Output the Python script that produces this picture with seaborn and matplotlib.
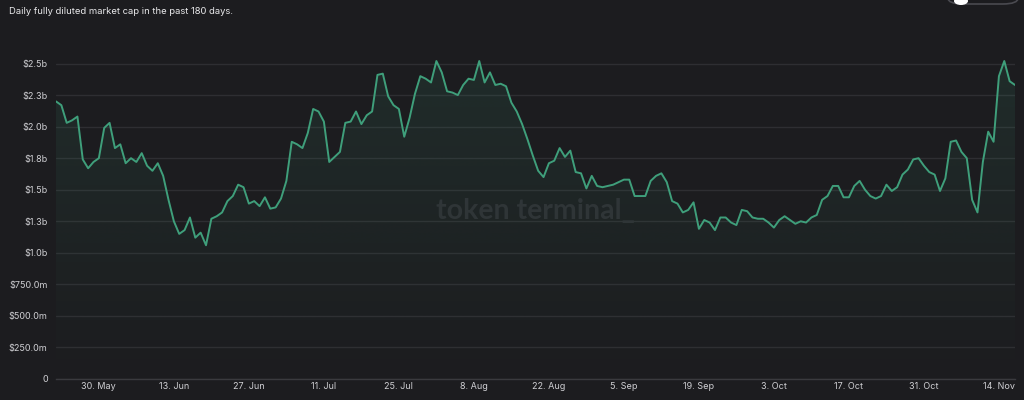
import numpy as np
import pandas as pd
import seaborn as sns
import matplotlib.pyplot as plt
import matplotlib.dates as mdates
from matplotlib.patches import FancyBboxPatch, Ellipse

# daily fully diluted market cap, in billions of USD
start_date = "2022-05-22"
fdv_b = [
    2.20, 2.17, 2.03, 2.05, 2.08, 1.74, 1.67, 1.72, 1.75, 1.99,
    2.03, 1.83, 1.86, 1.71, 1.75, 1.72, 1.79, 1.69, 1.65, 1.71,
    1.61, 1.42, 1.25, 1.15, 1.18, 1.28, 1.12, 1.16, 1.06, 1.27,
    1.29, 1.32, 1.41, 1.45, 1.54, 1.52, 1.39, 1.41, 1.37, 1.44,
    1.35, 1.36, 1.43, 1.57, 1.88, 1.86, 1.83, 1.95, 2.14, 2.12,
    2.04, 1.72, 1.76, 1.80, 2.03, 2.04, 2.12, 2.02, 2.09, 2.12,
    2.41, 2.42, 2.24, 2.17, 2.14, 1.92, 2.07, 2.26, 2.40, 2.38,
    2.35, 2.52, 2.43, 2.28, 2.27, 2.25, 2.33, 2.38, 2.37, 2.52,
    2.35, 2.43, 2.33, 2.34, 2.32, 2.19, 2.12, 2.02, 1.90, 1.77,
    1.65, 1.60, 1.71, 1.73, 1.83, 1.76, 1.81, 1.64, 1.63, 1.51,
    1.61, 1.53, 1.52, 1.53, 1.54, 1.56, 1.58, 1.58, 1.45, 1.45,
    1.45, 1.57, 1.61, 1.63, 1.56, 1.41, 1.39, 1.32, 1.34, 1.40,
    1.19, 1.26, 1.24, 1.18, 1.28, 1.28, 1.24, 1.22, 1.34, 1.33,
    1.28, 1.27, 1.27, 1.24, 1.20, 1.26, 1.29, 1.26, 1.23, 1.25,
    1.24, 1.28, 1.30, 1.42, 1.45, 1.53, 1.53, 1.44, 1.44, 1.53,
    1.57, 1.50, 1.45, 1.43, 1.45, 1.54, 1.49, 1.52, 1.62, 1.66,
    1.74, 1.75, 1.69, 1.64, 1.62, 1.49, 1.59, 1.88, 1.89, 1.80,
    1.75, 1.42, 1.32, 1.72, 1.96, 1.88, 2.40, 2.52, 2.36, 2.33,
]
y_ticks = [0, 0.25e9, 0.5e9, 0.75e9, 1.0e9, 1.25e9, 1.5e9, 1.75e9, 2.0e9, 2.25e9, 2.5e9]
y_tick_labels = ["0", "$250.0m", "$500.0m", "$750.0m", "$1.0b", "$1.3b",
                 "$1.5b", "$1.8b", "$2.0b", "$2.3b", "$2.5b"]
x_tick_dates = ["2022-05-30", "2022-06-13", "2022-06-27", "2022-07-11", "2022-07-25",
                "2022-08-08", "2022-08-22", "2022-09-05", "2022-09-19", "2022-10-03",
                "2022-10-17", "2022-10-31", "2022-11-14"]
x_tick_labels = ["30. May", "13. Jun", "27. Jun", "11. Jul", "25. Jul", "8. Aug",
                 "22. Aug", "5. Sep", "19. Sep", "3. Oct", "17. Oct", "31. Oct", "14. Nov"]

bg = "#1c1c1f"
green = "#3f9f7b"
sns.set_theme(style="dark", rc={"axes.facecolor": bg, "figure.facecolor": bg})
plt.rcParams["font.family"] = ["Inter", "DejaVu Sans"]

df = pd.DataFrame({
    "date": pd.date_range(start_date, periods=len(fdv_b), freq="D"),
    "fdv": np.array(fdv_b) * 1e9,
})

fig = plt.figure(figsize=(10.24, 4), dpi=100)
ax = fig.add_axes([56 / 1024, 21 / 400, 959 / 1024, 347 / 400])
ymax = 2.75e9

sns.lineplot(data=df, x="date", y="fdv", ax=ax, color=green, linewidth=1.4, zorder=4)

# gradient fill under the line
xnum = mdates.date2num(df["date"])
poly = ax.fill_between(df["date"], df["fdv"], 0, color="none", linewidth=0)
grad = np.zeros((256, 2, 4))
grad[:, :, :3] = np.array([63, 159, 123]) / 255
grad[:, :, 3] = np.linspace(0.0, 0.13, 256)[:, None]
im = ax.imshow(grad, extent=[xnum[0], xnum[-1], 0, 2.55e9], aspect="auto",
               origin="lower", zorder=2, interpolation="bicubic")
im.set_clip_path(poly.get_paths()[0], transform=ax.transData)

ax.set_xlim(xnum[0], xnum[-1])
ax.set_ylim(0, ymax)
ax.set_yticks(y_ticks)
ax.set_yticklabels(y_tick_labels)
ax.set_xticks(mdates.date2num(pd.to_datetime(x_tick_dates)))
ax.set_xticklabels(x_tick_labels)
ax.set_xlabel("")
ax.set_ylabel("")

ax.grid(axis="y", color="#2e2e32", linewidth=1)
ax.grid(axis="x", visible=False)
for s in ["top", "right", "left"]:
    ax.spines[s].set_visible(False)
ax.spines["bottom"].set_color("#3a3a3e")
ax.spines["bottom"].set_linewidth(1)
ax.tick_params(axis="y", colors="#d0d0d4", labelsize=6.5, length=0, pad=6)
ax.tick_params(axis="x", colors="#6a6a70", labelcolor="#d0d0d4", labelsize=6.5,
               length=5, width=1, direction="in", pad=2)

# watermark
ax.text(0.5, 0.485, "token terminal_", transform=ax.transAxes, ha="center",
        va="center", fontsize=20.5, fontweight="bold", color="#2e2e33",
        family=["Lato", "DejaVu Sans"], zorder=1)

fig.text(9 / 1024, 1 - 11 / 400, "Daily fully diluted market cap in the past 180 days.",
         color="#e8e8ea", fontsize=6.8, va="center", ha="left")

# toggle widget cut off at top right
fig.patches.append(FancyBboxPatch((948 / 1024, 1 - 4 / 400), 70 / 1024, 14 / 400,
                                  boxstyle="round,pad=0,rounding_size=0.015",
                                  transform=fig.transFigure, facecolor=bg,
                                  edgecolor="#4a4a50", linewidth=1.2))
fig.patches.append(Ellipse((961 / 1024, 1 - 1 / 400), 14 / 1024, 8 / 400,
                           transform=fig.transFigure, facecolor="white",
                           edgecolor="none"))

fig.savefig("out.png", dpi=100, facecolor=bg)
